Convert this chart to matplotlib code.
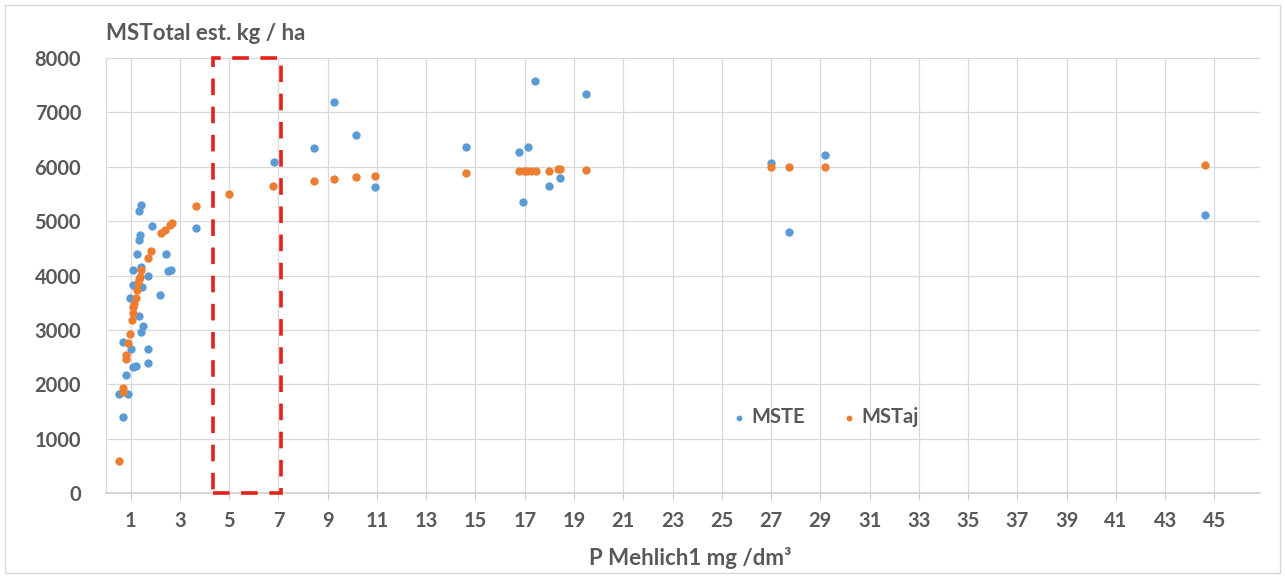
import matplotlib.pyplot as plt
from matplotlib.patches import Rectangle

plt.rcParams['font.family'] = ['Lato', 'DejaVu Sans']

# P Mehlich1 (mg/dm3) against estimated dry matter (kg/ha)
mste_x = [0.53, 0.69, 0.90, 0.83, 0.69, 1.03, 1.10, 1.21, 1.71, 1.71,
          1.41, 1.51, 1.34, 0.99, 1.10, 1.48, 2.21, 1.71, 1.10, 1.44,
          2.52, 2.62, 1.26, 2.45, 1.34, 1.40, 1.85, 1.34, 1.44, 3.64,
          6.81, 8.43, 9.25, 10.13, 10.92, 14.62, 16.76, 16.92, 17.15, 17.40,
          17.98, 18.44, 19.49, 27.0, 27.74, 29.2, 44.6]
mste_y = [1820, 1392, 1820, 2170, 2783, 2642, 2317, 2342, 2397, 2642,
          2955, 3071, 3255, 3581, 3825, 3795, 3641, 3991, 4101, 4151,
          4088, 4101, 4395, 4395, 4653, 4745, 4910, 5191, 5296, 4880,
          6087, 6338, 7197, 6584, 5622, 6369, 6277, 5346, 6369, 7583,
          5646, 5800, 7332, 6063, 4806, 6216, 5113]

mstaj_x = [0.53, 0.69, 0.69, 0.83, 0.83, 0.90, 0.97, 1.06, 1.10, 1.10,
           1.14, 1.20, 1.24, 1.30, 1.35, 1.37, 1.44, 1.71, 1.81, 2.25,
           2.39, 2.59, 2.66, 3.64, 4.99, 6.78, 8.43, 9.25, 10.13, 10.92,
           14.62, 16.75, 16.95, 17.10, 17.25, 17.45, 17.98, 18.34, 18.44, 19.49,
           27.0, 27.74, 29.2, 44.6]
mstaj_y = [590, 1863, 1925, 2459, 2538, 2752, 2924, 3181, 3305, 3420,
           3476, 3586, 3733, 3856, 3930, 3978, 4101, 4316, 4456, 4776,
           4837, 4929, 4960, 5278, 5493, 5646, 5743, 5769, 5806, 5830,
           5879, 5922, 5922, 5922, 5922, 5922, 5922, 5952, 5952, 5940,
           5990, 6001, 6001, 6032]

x_ticks = list(range(1, 46, 2))
y_ticks = list(range(0, 8001, 1000))
highlight = (4.35, 7.1)  # P range marked with the dashed box

blue = '#5b9bd5'
orange = '#ed7d31'
text_col = '#595959'
grid_col = '#d9d9d9'

fig = plt.figure(figsize=(12.85, 5.76), dpi=100)
ax = fig.add_axes([106 / 1285, 1 - 493 / 576, (1260 - 106) / 1285, (493 - 58) / 576])

ax.scatter(mste_x, mste_y, s=36, color=blue, lw=0, zorder=3, label='MSTE')
ax.scatter(mstaj_x, mstaj_y, s=36, color=orange, lw=0, zorder=4, label='MSTaj')

ax.add_patch(Rectangle((highlight[0], 0), highlight[1] - highlight[0], 8000,
                       fill=False, ec='#e2231a', lw=2.6, ls=(0, (4.6, 3.2)),
                       zorder=5, clip_on=False))

ax.set_xlim(0, 46.85)
ax.set_ylim(0, 8000)
ax.set_xticks(x_ticks)
ax.set_yticks(y_ticks)
ax.grid(True, color=grid_col, lw=0.9, zorder=0)
ax.set_axisbelow(True)

for side in ['top', 'right']:
    ax.spines[side].set_visible(False)
ax.spines['left'].set_color(grid_col)
ax.spines['bottom'].set_color('#cfcfcf')
ax.spines['bottom'].set_linewidth(1.2)

ax.tick_params(axis='x', length=5, color='#cfcfcf', labelsize=14.5,
               labelcolor=text_col, pad=8)
ax.tick_params(axis='y', length=0, labelsize=14.5, labelcolor=text_col, pad=18)
for lab in ax.get_xticklabels() + ax.get_yticklabels():
    lab.set_fontweight('bold')

fig.text(106 / 1285, 1 - 33 / 576, 'MSTotal est. kg / ha', ha='left', va='center',
         fontsize=16, fontweight='bold', color=text_col)
fig.text(690 / 1285, 1 - 558 / 576, 'P Mehlich1 mg /dm³', ha='center', va='center',
         fontsize=16, fontweight='bold', color=text_col)

leg = fig.legend(loc='center', bbox_to_anchor=(824 / 1285, 1 - 417 / 576), ncol=2,
                 frameon=False, markerscale=0.7, handlelength=1.0,
                 handletextpad=0.1, columnspacing=1.7,
                 prop={'size': 14.5, 'weight': 'bold'})
for t in leg.get_texts():
    t.set_color(text_col)

# light frame around the whole chart
fig.patches.append(Rectangle((5 / 1285, 3 / 576), 1 - 10 / 1285, 1 - 8 / 576,
                             transform=fig.transFigure, fill=False,
                             ec='#d9d9d9', lw=1))

fig.savefig('out.png', dpi=100)
